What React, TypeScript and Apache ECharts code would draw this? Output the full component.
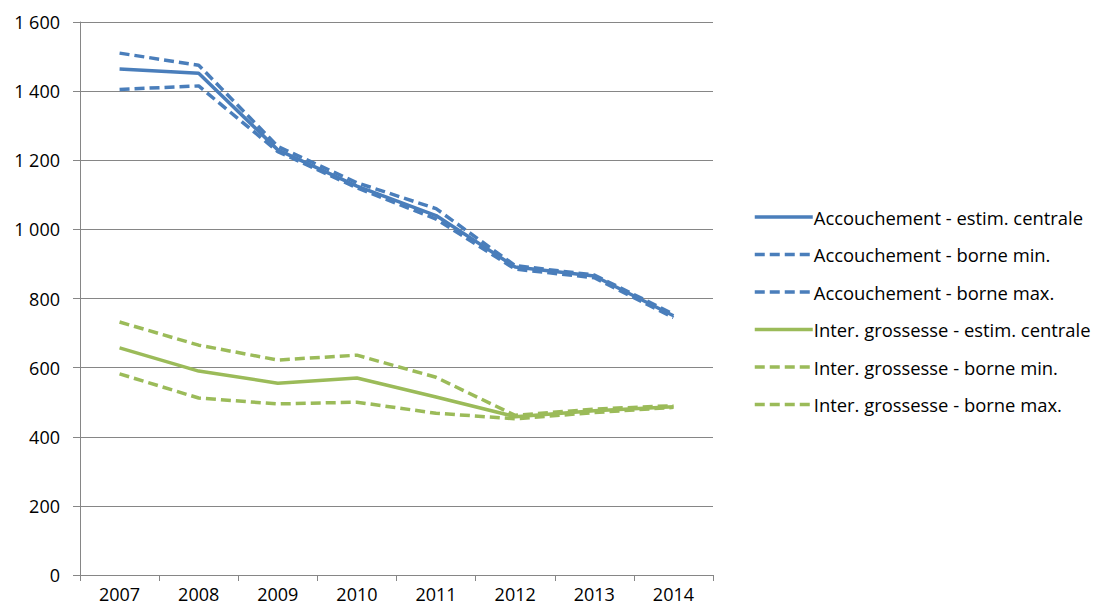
import React, { useEffect, useRef } from "react";
import * as echarts from "echarts";

const years = ["2007", "2008", "2009", "2010", "2011", "2012", "2013", "2014"];
const accCentral = [1464, 1452, 1230, 1125, 1040, 891, 865, 750];
const accMin = [1405, 1415, 1225, 1120, 1030, 885, 860, 745];
const accMax = [1510, 1475, 1240, 1135, 1060, 895, 868, 755];
const igCentral = [657, 590, 555, 570, 515, 458, 475, 487];
const igMin = [582, 512, 495, 500, 468, 452, 470, 485];
const igMax = [732, 665, 622, 636, 572, 462, 480, 490];
const yTicks = [0, 200, 400, 600, 800, 1000, 1200, 1400, 1600];

const BLUE = "#4a7ebb";
const GREEN = "#9bbb59";
const FONT = "'Open Sans', 'Liberation Sans', sans-serif";

const fmt = (v: number) => {
  const s = String(Math.round(v));
  return s.replace(/\B(?=(\d{3})+(?!\d))/g, " ");
};

export default function App() {
  const ref = useRef<HTMLDivElement>(null);
  useEffect(() => {
    if (!ref.current) return;
    const chart = echarts.init(ref.current, undefined, { renderer: "svg" });
    const mk = (name: string, data: number[], color: string, dashed: boolean) => ({
      name,
      type: "line",
      data,
      symbol: "none",
      showSymbol: false,
      lineStyle: { color, width: 3.5, type: dashed ? [10, 5] : "solid" },
      itemStyle: { color },
      z: dashed ? 2 : 3,
    });
    chart.setOption({
      animation: false,
      textStyle: { fontFamily: FONT },
      grid: { left: 80, top: 22, right: 383, bottom: 34, containLabel: false },
      xAxis: {
        type: "category",
        data: years,
        boundaryGap: true,
        axisLine: { lineStyle: { color: "#868686", width: 1 } },
        axisTick: { show: true, interval: 0, length: 6, lineStyle: { color: "#868686" } },
        axisLabel: { color: "#000", fontSize: 18, margin: 9, lineHeight: 20, fontFamily: FONT },
        splitLine: { show: false },
      },
      yAxis: {
        type: "value",
        min: yTicks[0],
        max: yTicks[yTicks.length - 1],
        interval: 200,
        axisLine: { show: true, lineStyle: { color: "#868686", width: 1 } },
        axisTick: { show: true, length: 7, lineStyle: { color: "#868686" } },
        axisLabel: { color: "#000", fontSize: 18, margin: 20, formatter: fmt, fontFamily: FONT },
        splitLine: { show: true, lineStyle: { color: "#868686", width: 1 } },
      },
      legend: {
        orient: "vertical",
        left: 748,
        top: 203,
        itemWidth: 58,
        itemHeight: 14,
        itemGap: 19.5,
        itemStyle: { opacity: 0 },
        lineStyle: { width: 3.5 },
        textStyle: { fontSize: 18.4, color: "#000", fontFamily: FONT, padding: [0, 0, 0, -4] },
        data: [
          "Accouchement - estim. centrale",
          "Accouchement - borne min.",
          "Accouchement - borne max.",
          "Inter. grossesse - estim. centrale",
          "Inter. grossesse - borne min.",
          "Inter. grossesse - borne max.",
        ],
      },
      series: [
        mk("Accouchement - estim. centrale", accCentral, BLUE, false),
        mk("Accouchement - borne min.", accMin, BLUE, true),
        mk("Accouchement - borne max.", accMax, BLUE, true),
        mk("Inter. grossesse - estim. centrale", igCentral, GREEN, false),
        mk("Inter. grossesse - borne min.", igMin, GREEN, true),
        mk("Inter. grossesse - borne max.", igMax, GREEN, true),
      ],
    });
    return () => chart.dispose();
  }, []);
  return <div ref={ref} style={{ width: 1096, height: 609, position: "absolute", left: 0, top: 0 }} />;
}
